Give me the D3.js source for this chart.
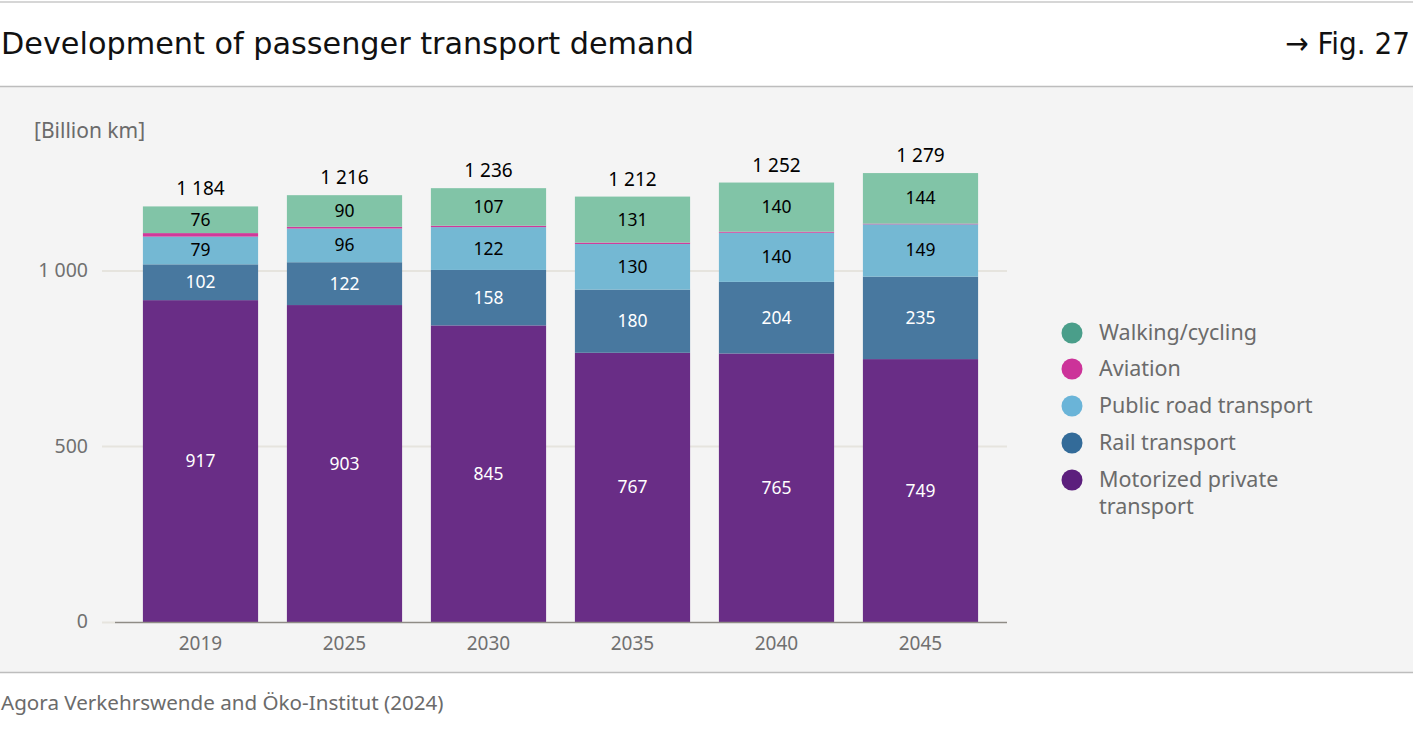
<!DOCTYPE html>
<html><head><meta charset="utf-8">
<script src="https://cdn.jsdelivr.net/npm/d3@7"></script>
<style>
html,body{margin:0;padding:0;background:#fff;}
svg{display:block;}
text{font-family:"Noto Sans",sans-serif;}
</style></head>
<body>
<svg id="c" width="1413" height="732"></svg>
<script>
const years = ["2019","2025","2030","2035","2040","2045"];
const motorized = [917, 903, 845, 767, 765, 749];
const rail = [102, 122, 158, 180, 204, 235];
const publicRoad = [79, 96, 122, 130, 140, 149];
const aviation = [10, 5, 4, 4, 3, 2];
const walking = [76, 90, 107, 131, 140, 144];
const totals = [1184, 1216, 1236, 1212, 1252, 1279];
const yTicks = [0, 500, 1000];

const series = [
  {key:"motorized", name:["Motorized private","transport"], values:motorized, color:"#692d86", dot:"#5c1f7d", text:"#fff", label:true},
  {key:"rail", name:["Rail transport"], values:rail, color:"#48789f", dot:"#336b99", text:"#fff", label:true},
  {key:"public", name:["Public road transport"], values:publicRoad, color:"#74b8d3", dot:"#6ab4d8", text:"#000", label:true},
  {key:"aviation", name:["Aviation"], values:aviation, color:"#d0399a", dot:"#cc3399", text:"#000", label:false},
  {key:"walking", name:["Walking/cycling"], values:walking, color:"#81c4a7", dot:"#4a9e8a", text:"#000", label:true}
];

const svg = d3.select("#c");
svg.append("rect").attr("x",0).attr("y",87).attr("width",1413).attr("height",585).attr("fill","#f4f4f4");
svg.append("line").attr("x1",0).attr("x2",1413).attr("y1",2).attr("y2",2).attr("stroke","#c8c8c8").attr("stroke-width",1.5);
svg.append("line").attr("x1",0).attr("x2",1413).attr("y1",86.5).attr("y2",86.5).attr("stroke","#bdbdbd").attr("stroke-width",1.5);
svg.append("line").attr("x1",0).attr("x2",1413).attr("y1",672.5).attr("y2",672.5).attr("stroke","#bdbdbd").attr("stroke-width",1.5);

svg.append("text").attr("x",1).attr("y",54).attr("font-size",31).attr("fill","#111")
  .style("font-family","'DejaVu Sans Condensed','DejaVu Sans',sans-serif").attr("textLength",693).attr("lengthAdjust","spacingAndGlyphs")
  .text("Development of passenger transport demand");
svg.append("text").attr("x",1410).attr("y",54).attr("font-size",31).attr("fill","#111").attr("text-anchor","end")
  .style("font-family","'DejaVu Sans Condensed','DejaVu Sans',sans-serif")
  .text("→ Fig. 27");

svg.append("text").attr("x",34).attr("y",138).attr("font-size",21).attr("fill","#6b6b6b").text("[Billion km]");

const y = d3.scaleLinear().domain([0,1000]).range([622,271]);
const x = d3.scaleBand().domain(years).range([128.5,992.5]).paddingInner(0.2).paddingOuter(0.1);

const g = svg.append("g");
g.selectAll("line.grid").data(yTicks.filter(d=>d>0)).join("line")
  .attr("x1",102).attr("x2",1007).attr("y1",d=>y(d)).attr("y2",d=>y(d))
  .attr("stroke","#e6e4de").attr("stroke-width",2);
g.selectAll("text.tick").data(yTicks).join("text")
  .attr("x",88).attr("y",d=>y(d)+6).attr("text-anchor","end").attr("font-size",19.5).attr("fill","#707070")
  .text(d=>d3.format(",")(d).replace(",", " "));

const rows = years.map((yr,i)=>{const o={year:yr}; series.forEach(s=>o[s.key]=s.values[i]); return o;});
const stack = d3.stack().keys(series.map(s=>s.key))(rows);

const bars = svg.append("g");
stack.forEach((layer,li)=>{
  const s = series[li];
  bars.selectAll(null).data(layer).join("rect")
    .attr("x",d=>x(d.data.year)).attr("width",x.bandwidth())
    .attr("y",d=>y(d[1])).attr("height",d=>y(d[0])-y(d[1]))
    .attr("fill",s.color);
});
svg.append("line").attr("x1",102).attr("x2",115).attr("y1",622.5).attr("y2",622.5).attr("stroke","#e6e4de").attr("stroke-width",2);
svg.append("line").attr("x1",115).attr("x2",1007).attr("y1",622.5).attr("y2",622.5).attr("stroke","#8f8c86").attr("stroke-width",1.5);

stack.forEach((layer,li)=>{
  const s = series[li];
  if(!s.label) return;
  svg.append("g").selectAll(null).data(layer).join("text")
    .attr("x",d=>x(d.data.year)+x.bandwidth()/2)
    .attr("y",d=>y((d[0]+d[1])/2)+6)
    .attr("text-anchor","middle").attr("font-size",17.5)
    .attr("fill",s.text)
    .attr("stroke",s.color).attr("stroke-width",3).attr("paint-order","stroke")
    .text(d=>d.data[s.key]);
});
svg.append("g").selectAll("text").data(years).join("text")
  .attr("x",d=>x(d)+x.bandwidth()/2).attr("y",(d,i)=>y(totals[i])-11)
  .attr("text-anchor","middle").attr("font-size",19).attr("fill","#000")
  .text((d,i)=>d3.format(",")(totals[i]).replace(","," "));

svg.append("g").selectAll("text").data(years).join("text")
  .attr("x",d=>x(d)+x.bandwidth()/2).attr("y",650)
  .attr("text-anchor","middle").attr("font-size",19).attr("fill","#707070").text(d=>d);

const legendItems = series.slice().reverse();
const legendY = [333, 369, 406, 443, 480];
const lg = svg.append("g");
legendItems.forEach((s,i)=>{
  lg.append("circle").attr("cx",1072).attr("cy",legendY[i]).attr("r",10.5).attr("fill",s.dot);
  s.name.forEach((line,j)=>{
    lg.append("text").attr("x",1099).attr("y",legendY[i]+7+j*27).attr("font-size",21.5).attr("fill","#6b6b6b").text(line);
  });
});

svg.append("text").attr("x",1).attr("y",710).attr("font-size",20.6).attr("fill","#6b6b6b").text("Agora Verkehrswende and Öko-Institut (2024)");
</script>
</body></html>
